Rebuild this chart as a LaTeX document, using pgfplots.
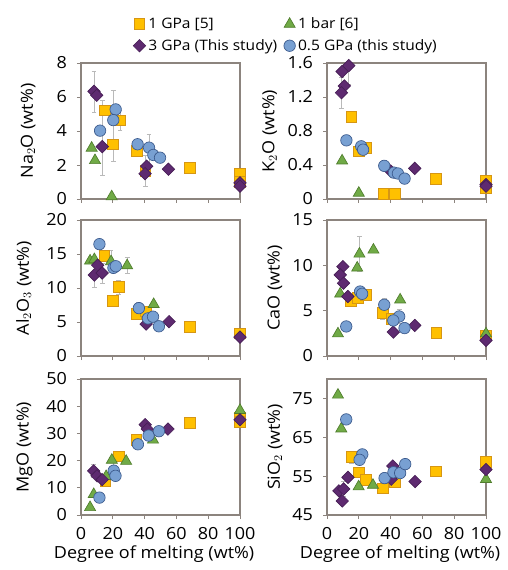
\documentclass[border=0pt]{standalone}
\usepackage{fontspec}
\setmainfont{Open Sans}[FakeStretch=1.08]
\usepackage{pgfplots}
\pgfplotsset{compat=1.18}

\definecolor{sqfill}{RGB}{255,192,0}
\definecolor{sqdraw}{RGB}{214,150,20}
\definecolor{trfill}{RGB}{112,170,70}
\definecolor{trdraw}{RGB}{80,125,45}
\definecolor{dmfill}{RGB}{94,42,112}
\definecolor{dmdraw}{RGB}{70,30,85}
\definecolor{cifill}{RGB}{120,160,210}
\definecolor{cidraw}{RGB}{60,90,140}
\definecolor{framecol}{RGB}{140,132,126}

\pgfplotsset{
  panel/.style={
    scale only axis, width=119.25pt, height=102pt, anchor=north west,
    xmin=0, xmax=100, xtick={0,20,...,100},
    axis line style={framecol, line width=0.9pt},
    tick style={framecol, line width=0.7pt}, major tick length=3pt,
    tick align=outside, xtick pos=bottom, ytick pos=left,
    ticklabel style={font=\fontsize{12.5}{14}\selectfont},
    label style={font=\fontsize{12.5}{14}\selectfont},
    yticklabel style={xshift=-4pt},
    xticklabel style={yshift=-3pt},
    xlabel style={at={(axis description cs:0.46,-0.285)}, anchor=center},
    /pgf/number format/assume math mode=true,
    clip=false,
  },
  ylab/.style={ylabel style={at={(axis description cs:#1,0.5)}, anchor=center}},
  nox/.style={xticklabels={}},
  onegpa/.style={only marks, mark=square*, mark size=4pt,
    mark options={fill=sqfill, draw=sqdraw, line width=0.5pt}},
  onebar/.style={only marks, mark=triangle*, mark size=4.8pt,
    mark options={fill=trfill, draw=trdraw, line width=0.5pt}},
  threegpa/.style={only marks, mark=square*, mark size=3.3pt,
    mark options={rotate=45, fill=dmfill, draw=dmdraw, line width=0.5pt}},
  halfgpa/.style={only marks, mark=*, mark size=4.3pt,
    mark options={fill=cifill, draw=cidraw, line width=0.5pt}},
  errs/.style={forget plot, draw=none, mark=none,
    error bars/.cd, y dir=both, y explicit,
    error bar style={draw=gray!55, line width=0.5pt},
    error mark options={rotate=90, mark size=1.8pt, draw=gray!55}},
}

\begin{document}
\begin{tikzpicture}
\useasboundingbox (0,0) rectangle (380.25pt,-427.5pt);

% Na2O
\begin{axis}[panel, nox, at={(60.75pt,-47.25pt)}, ylab=-0.333,
  ymin=0, ymax=8, ytick={0,2,...,8}, ylabel={Na$_2$O (wt\%)},
  legend columns=2,
  legend style={at={(0.327,1.355)}, anchor=north west, draw=none, fill=none,
    inner sep=0pt, font=\fontsize{10.8}{12}\selectfont, row sep=2.5pt,
    /tikz/every even column/.append style={column sep=3pt},
    /tikz/every odd column/.append style={column sep=0pt}},
  legend cell align=left,
  legend image code/.code={\draw[mark repeat=2,mark phase=2,#1] plot coordinates {(0pt,0pt)(4pt,0pt)(8pt,0pt)};}]
  \addplot[errs] coordinates {(8.2,6.33) +- (0,1.2) (13.4,3.6) +- (0,2.2) (20.3,4.3) +- (0,2.1) (24.5,4.62) +- (0,0.6) (42.8,2.6) +- (0,1.2) (40.5,1.65) +- (0,0.9)};
  \addplot[onegpa] coordinates {(15.1,5.21)(24.5,4.62)(19.9,3.22)(35,2.85)(40.5,1.65)(68.6,1.85)(100,1.5)(100,1.0)};
  \addlegendentry{1 GPa [5]}
  \addplot[onebar] coordinates {(6.7,3.0)(8.8,2.27)(19.3,0.14)};
  \addlegendentry{1 bar [6]}
  \addplot[threegpa] coordinates {(8.2,6.33)(9.9,6.1)(13.4,3.08)(41.3,1.93)(40.3,1.49)(55,1.75)(100,0.95)(100,0.75)};
  \addlegendentry{3 GPa (This study)}
  \addplot[halfgpa] coordinates {(12,4.02)(21.8,5.27)(20.3,4.64)(35.6,3.22)(42.8,3.02)(45.5,2.59)(49.7,2.43)};
  \addlegendentry{0.5 GPa (this study)}
\end{axis}

% K2O
\begin{axis}[panel, nox, at={(245.25pt,-47.25pt)}, ylab=-0.36,
  ymin=0, ymax=1.6, ytick={0,0.4,0.8,1.2,1.6}, ylabel={K$_2$O (wt\%)},
  yticklabel style={/pgf/number format/.cd, fixed, precision=1}]
  \addplot[errs] coordinates {(9.1,1.25) +- (0,0.18) (13.7,1.45) +- (0,0.1)};
  \addplot[onegpa] coordinates {(15.4,0.97)(20,0.56)(24.6,0.6)(35.4,0.06)(42.5,0.06)(68.4,0.24)(100,0.21)(100,0.13)};
  \addplot[onebar] coordinates {(9.5,0.45)(20,0.07)};
  \addplot[threegpa] coordinates {(9.5,1.50)(13.7,1.57)(10.9,1.33)(9.1,1.25)(55.2,0.36)(40,0.33)(100,0.17)(100,0.15)};
  \addplot[halfgpa] coordinates {(12.2,0.69)(21.5,0.62)(22.7,0.58)(36,0.39)(42.1,0.31)(44.6,0.3)(48.8,0.24)};
\end{axis}

% Al2O3
\begin{axis}[panel, nox, at={(60.75pt,-165pt)}, ylab=-0.36,
  ymin=0, ymax=20, ytick={0,5,...,20}, ylabel={Al$_2$O$_3$ (wt\%)}]
  \addplot[errs] coordinates {(8.4,11.9) +- (0,1.8) (13.3,12.2) +- (0,1.5) (18.9,13.9) +- (0,1.6) (29,13.3) +- (0,1.2) (23.8,10.15) +- (0,1.0) (36.4,7.04) +- (0,0.9)};
  \addplot[onegpa] coordinates {(14.7,14.76)(23.8,10.15)(20,8.1)(34.7,6.17)(40.6,6.55)(68.4,4.32)(100,3.35)};
  \addplot[onebar] coordinates {(5.7,14.0)(8.4,14.2)(18.9,13.9)(29,13.3)(45.7,7.6)};
  \addplot[threegpa] coordinates {(8.4,11.9)(10.5,13.35)(13.3,12.2)(41,4.7)(55.4,5.05)(100,2.77)};
  \addplot[halfgpa] coordinates {(11.6,16.45)(20.4,12.96)(21.9,13.2)(36.4,7.04)(42.1,5.53)(45.3,5.78)(49,4.37)};
\end{axis}

% CaO
\begin{axis}[panel, nox, at={(245.25pt,-165pt)}, ylab=-0.327,
  ymin=0, ymax=15, ytick={0,5,10,15}, ylabel={CaO (wt\%)}]
  \addplot[errs] coordinates {(20.4,11.26) +- (0,1.9) (36,5.65) +- (0,0.7) (35,4.77) +- (0,0.7) (45.4,4.36) +- (0,0.8) (8.3,8.95) +- (0,0.8)};
  \addplot[onegpa] coordinates {(14.8,6.05)(19.4,6.42)(24.6,6.78)(35,4.77)(40.8,4.1)(68.8,2.53)(100,2.27)};
  \addplot[onebar] coordinates {(6.9,2.46)(8.3,6.86)(20.4,11.26)(19,9.72)(29.2,11.7)(46,6.2)(100,2.46)};
  \addplot[threegpa] coordinates {(10,9.86)(8.3,8.95)(10.4,8.03)(13.1,6.56)(41.7,2.64)(55.2,3.37)(100,1.72)};
  \addplot[halfgpa] coordinates {(12.1,3.26)(20.8,7.11)(22.1,6.86)(36,5.65)(45.4,4.36)(41.7,3.92)(48.75,3.08)};
\end{axis}

% MgO
\begin{axis}[panel, at={(60.75pt,-284.25pt)}, ylab=-0.355,
  ymin=0, ymax=50, ytick={0,10,...,50}, ylabel={MgO (wt\%)},
  xlabel={Degree of melting (wt\%)}]
  \addplot[errs] coordinates {(8,16.2) +- (0,2.5) (20.6,16.3) +- (0,3.0) (15.4,12.4) +- (0,2.0)};
  \addplot[onegpa] coordinates {(15.4,12.4)(23.6,21.6)(34.7,27.6)(68.4,33.8)(100,35.8)(100,34.3)};
  \addplot[onebar] coordinates {(5.7,2.8)(8,7.6)(15.8,14.2)(19.4,20.2)(28.4,19.8)(45.3,27.6)(100,38.5)};
  \addplot[threegpa] coordinates {(8,16.2)(10.1,14.4)(13.3,13)(40.4,33.2)(41.7,31.6)(54.7,31.6)(100,35)};
  \addplot[halfgpa] coordinates {(11.6,6.4)(20.6,16.3)(21.7,14.4)(35.8,26)(42.5,29.2)(49,30.8)};
\end{axis}

% SiO2
\begin{axis}[panel, at={(245.25pt,-284.25pt)}, ylab=-0.327,
  ymin=45, ymax=80, ytick={45,55,65,75}, ylabel={SiO$_2$ (wt\%)},
  xlabel={Degree of melting (wt\%)}]
  \addplot[errs] coordinates {(10.5,51.7) +- (0,2.0) (15.3,59.9) +- (0,1.5) (36.2,54.5) +- (0,1.2)};
  \addplot[onegpa] coordinates {(15.3,59.9)(19.9,56)(24.3,54)(35.1,51.9)(42.5,53.4)(68.6,56.2)(100,58.6)};
  \addplot[onebar] coordinates {(6.9,75.9)(9,67.2)(19.9,52.3)(28.9,52.7)(100,54.2)};
  \addplot[threegpa] coordinates {(7.5,51.2)(10.5,51.7)(9.6,48.6)(13.2,54.7)(41.4,57.6)(40.4,54.2)(55.4,53.6)(100,56.7)};
  \addplot[halfgpa] coordinates {(12.1,69.6)(22.2,60.6)(20.5,59.2)(36.2,54.5)(41.8,56)(46,55.8)(49.2,58.1)};
\end{axis}
\end{tikzpicture}
\end{document}
